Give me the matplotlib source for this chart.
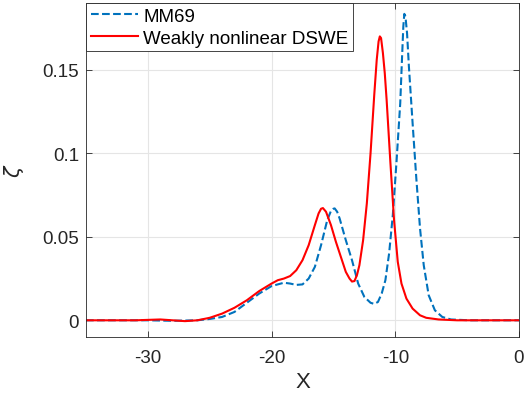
import matplotlib
matplotlib.use("Agg")
import matplotlib.pyplot as plt

# MM69 (dashed blue)
x_mm69 = [-35, -30, -28, -26, -25, -24, -23, -22, -21, -20, -19, -18.5, -18, -17.5,
          -17, -16.5, -16, -15.5, -15.2, -15, -14.9, -14.7, -14.5, -14, -13.5, -13,
          -12.5, -12, -11.7, -11.4, -11.1, -10.8, -10.5, -10.2, -9.9, -9.6, -9.45,
          -9.35, -9.27, -9.18, -9.05, -8.9, -8.6, -8.3, -8.0, -7.7, -7.3, -6.8,
          -6.2, -5.5, -4, 0]
y_mm69 = [0, 0, -0.0003, 0, 0.0008, 0.002, 0.005, 0.0105, 0.016, 0.0205, 0.0225,
          0.022, 0.0212, 0.0215, 0.025, 0.032, 0.045, 0.060, 0.0655, 0.0668, 0.067,
          0.065, 0.061, 0.048, 0.036, 0.022, 0.014, 0.0105, 0.0098, 0.011, 0.016,
          0.024, 0.040, 0.063, 0.095, 0.130, 0.158, 0.176, 0.1835, 0.182, 0.172,
          0.152, 0.118, 0.085, 0.055, 0.033, 0.015, 0.006, 0.002, 0.0005, 0, 0]

# Weakly nonlinear DSWE (solid red)
x_dswe = [-35, -31, -29, -27, -26, -25, -24, -23, -22, -21, -20, -19.5, -19, -18.5,
          -18, -17.5, -17, -16.5, -16.2, -16.0, -15.85, -15.6, -15.2, -14.8, -14.4,
          -14, -13.7, -13.5, -13.3, -13.1, -12.9, -12.6, -12.3, -12.0, -11.7, -11.5,
          -11.35, -11.25, -11.15, -11.0, -10.85, -10.7, -10.4, -10.1, -9.8, -9.5,
          -9.1, -8.6, -8, -7.5, -6.5, -5, 0]
y_dswe = [0, 0, 0.0005, -0.0005, 0, 0.0015, 0.004, 0.0075, 0.012, 0.0175, 0.022,
          0.024, 0.025, 0.0265, 0.030, 0.036, 0.045, 0.057, 0.064, 0.0668, 0.0672,
          0.065, 0.057, 0.047, 0.038, 0.029, 0.025, 0.0232, 0.0235, 0.027, 0.033,
          0.048, 0.070, 0.100, 0.135, 0.156, 0.167, 0.170, 0.169, 0.160, 0.148,
          0.132, 0.095, 0.060, 0.035, 0.022, 0.013, 0.007, 0.003, 0.0015, 0.0005,
          0, 0]

x_ticks = [-30, -20, -10, 0]
y_ticks = [0, 0.05, 0.1, 0.15]

plt.rcParams['font.family'] = ['Liberation Sans', 'DejaVu Sans']

fig = plt.figure(figsize=(5.27, 4.02), dpi=100)
ax = fig.add_axes([86 / 527, 1 - 338 / 402, (519 - 86) / 527, (338 - 4) / 402])

ax.plot(x_mm69, y_mm69, linestyle='--', color='#0072BD', lw=1.5, label='MM69')
ax.plot(x_dswe, y_dswe, color='red', lw=1.5, label='Weakly nonlinear DSWE')

ax.set_xlim(-35, 0)
ax.set_ylim(-0.01, 0.19)
ax.set_xticks(x_ticks)
ax.set_yticks(y_ticks)
ax.set_xticklabels([str(t) for t in x_ticks])
ax.set_yticklabels(['0', '0.05', '0.1', '0.15'])
ax.tick_params(direction='in', top=True, right=True, labelsize=13.5,
               colors='#262626', length=4, width=0.6, pad=5)
ax.tick_params(axis='x', pad=9)
ax.grid(True, color='#e5e5e5', lw=0.8)
for s in ax.spines.values():
    s.set_color('#262626')
    s.set_linewidth(0.6)

ax.set_xlabel('X', fontsize=16, color='#262626', labelpad=3)
ax.set_ylabel(r'$\zeta$', fontsize=15, color='#262626', labelpad=12)

leg = ax.legend(loc='upper left', fontsize=13.5, frameon=True, fancybox=False,
                borderaxespad=0, handlelength=2.5, handletextpad=0.3,
                borderpad=0.25, labelspacing=0.25)
leg.get_frame().set_edgecolor('#262626')
leg.get_frame().set_linewidth(0.6)
leg.get_frame().set_alpha(1)

fig.savefig('out.png', dpi=100)
